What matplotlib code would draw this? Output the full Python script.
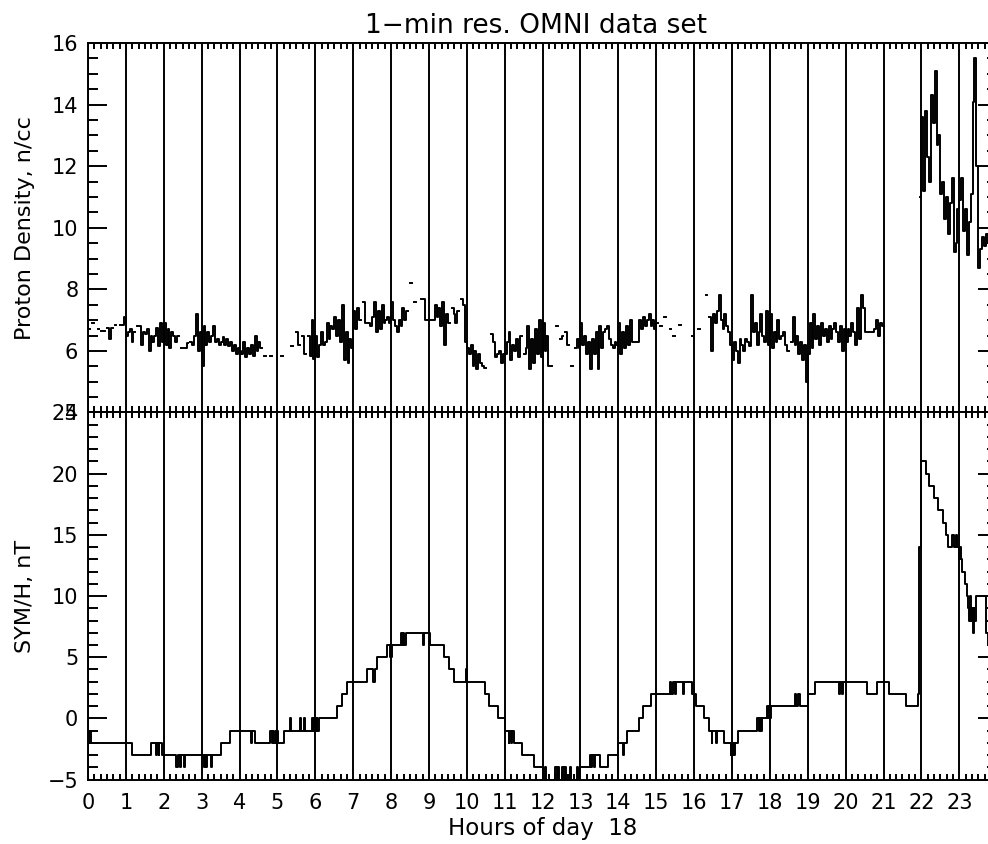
import numpy as np
import matplotlib.pyplot as plt
from matplotlib.ticker import MultipleLocator, FixedLocator

# Proton density, n/cc, 3-minute samples (20 per hour); None = no data
density = [
    6.7, None, 6.9, None, None, 6.7, None, 6.65, 6.65, None, 6.75, 6.4, 6.75, None, 6.85, None, None, 6.85, 6.85, 7.1,  # 00
    6.5, 6.6, 6.7, 6.3, 6.6, None, 6.8, 6.8, 6.2, 6.6, 6.55, 6.7, 6.0, 6.5, 6.3, 6.5, 6.75, 6.15, 6.9, 6.3,  # 01
    6.9, 6.2, 6.7, 6.1, 6.6, 6.5, 6.3, 6.5, None, 6.1, None, 6.1, 6.25, None, 6.3, 6.2, 6.5, 7.2, 6.0, 6.6,  # 02
    5.5, 6.8, 6.2, 6.6, 6.3, 6.5, 6.8, 6.3, 6.4, 6.2, 6.3, 6.45, 6.2, 6.4, 6.15, 6.3, 6.0, 6.2, 5.9, 6.1,  # 03
    6.0, 5.9, 6.3, 5.8, 6.1, 5.9, 6.2, 5.85, 6.5, 6.0, 6.3, 6.1, None, 5.85, None, None, 5.85, None, None, None,  # 04
    None, None, 5.85, None, None, None, None, 6.15, None, None, 6.6, 6.2, None, 6.5, 5.9, None, 6.5, 5.85, 7.0, 5.75,  # 05
    6.5, 5.8, 6.2, 6.6, 6.2, 6.3, 6.9, 6.4, 6.8, 6.7, 7.1, 6.5, 7.0, 6.3, 7.5, 5.7, 6.6, 5.6, 6.4, 6.1,  # 06
    7.3, 6.7, 7.4, 7.0, None, 7.6, 6.9, None, 6.9, 6.8, 7.1, 7.6, 6.6, 7.3, 6.7, 7.5, 6.9, 7.0, 7.1, 6.9,  # 07
    7.6, 7.0, 6.8, 6.6, 7.0, 6.8, 7.4, 7.0, 7.3, None, 8.2, None, 7.6, None, None, None, 7.7, 7.7, 7.0, 7.0,  # 08
    7.0, 7.0, 7.0, 7.5, 7.1, 7.4, 6.8, 7.6, 6.2, 7.2, 6.9, None, 7.4, 7.2, 6.9, 7.3, None, 7.7, 7.5, 6.3,  # 09
    6.1, 5.9, 6.2, 5.5, 6.0, 5.4, 5.9, 5.6, 5.5, 5.45, None, None, None, 6.55, 6.3, 5.8, 5.9, 6.0, 5.6, 5.9,  # 10
    5.9, 6.3, 6.6, 5.7, 6.2, 6.0, 6.4, 5.8, 6.5, None, 5.9, 6.1, 6.8, 5.4, 6.4, 5.6, 6.7, 5.9, 7.0, 5.8,  # 11
    6.9, 6.0, 6.5, 5.5, 5.5, None, None, 6.8, None, 6.4, 6.5, None, 6.6, 6.2, None, 5.5, None, 6.1, 6.4, 6.1,  # 12
    6.9, 6.2, 6.5, 5.9, 6.3, 5.4, 6.4, 5.9, 6.6, 5.4, 6.8, 6.1, 6.6, 6.7, 6.8, 6.4, 6.2, 6.1, 6.3, 6.2,  # 13
    6.9, 5.9, 6.6, 6.1, 6.8, 6.2, 7.0, 6.3, 6.3, 6.3, 6.3, 7.0, 6.7, 7.1, 6.8, 7.0, 7.2, 6.8, 7.0, 6.7,  # 14
    6.9, None, 6.8, None, 7.1, None, None, 6.7, None, 6.5, None, None, 6.85, None, None, None, None, None, None, 6.5,  # 15
    None, None, 6.7, None, None, None, 7.8, None, 7.1, 6.0, 7.2, 6.9, 7.3, 7.8, 7.0, 6.7, 7.2, 6.8, 6.6, 6.2,  # 16
    5.7, 6.3, 6.0, 5.6, 6.4, 6.2, 6.0, 6.4, 6.3, 6.15, 7.8, 6.6, 6.9, 6.2, 6.6, 7.2, 6.5, 6.3, 7.3, 6.2,  # 17
    7.2, 6.1, 6.6, 6.3, 7.0, 6.4, 6.5, 6.6, 6.2, 6.0, None, 6.3, 7.1, 6.2, 6.5, 5.9, 6.3, 5.7, 6.2, 5.0,  # 18
    5.9, 6.9, 6.1, 7.2, 6.4, 6.8, 6.2, 6.9, 6.5, 6.7, 6.3, 6.8, 6.4, 6.7, 6.9, 6.6, 6.3, 6.8, 6.0, 6.7,  # 19
    6.3, 6.7, 6.5, 6.9, 6.6, 6.2, 7.4, 6.4, 7.8, 7.4, 6.6, None, 6.6, None, 6.6, 6.7, 7.0, 6.5, 6.9, 6.8,  # 20
    None, None, None, None, None, None, None, None, None, None, None, None, None, None, None, None, None, None, None, 11.0,  # 21
    13.6, 11.2, 13.8, 12.3, 11.5, 14.3, 13.4, 15.1, 12.7, 13.0, 11.1, 11.5, 10.3, 11.0, 9.8, 10.8, 11.6, 9.2, 9.5, 10.6,  # 22
    10.9, 11.6, 9.9, 10.6, 9.1, 10.2, 11.1, 14.1, 15.5, 12.0, 8.7, 9.3, 9.7, 9.4, 9.8, 9.5, 9.6, 9.4, 9.7, 9.5,  # 23
]

# SYM/H, nT: minute of day at which each new value starts
symh_min = [
    0, 1, 2, 4, 69, 99, 108, 110, 112, 113, 117,
    140, 142, 146, 148, 152, 153, 183, 185, 187, 189, 195, 196,
    210, 225, 258, 260, 264,
    289, 291, 293, 295, 297, 298, 300, 301, 310,
    320, 322, 336, 338, 342, 343, 354, 356, 358, 360, 362, 363, 366,
    395, 403, 410, 442, 452, 454, 458, 474, 479, 482,
    495, 497, 499, 501, 503, 530, 532, 541, 564, 572, 580, 598, 600,
    628, 635, 650, 660, 666, 667, 670, 671, 674,
    687, 706, 720, 723, 725, 740, 743, 745, 746, 750, 754, 756, 757, 764, 765, 775, 776, 780,
    795, 797, 799, 801, 803, 811, 823,
    840, 848, 849, 853, 873, 879, 891, 921, 924, 926, 930, 931, 942, 944,
    957, 963, 975, 983, 988, 989, 995, 996, 1008, 1018, 1019, 1020, 1022, 1023, 1025, 1029,
    1059, 1062, 1064, 1066, 1068, 1076, 1077, 1078, 1079, 1081,
    1119, 1121, 1124, 1127, 1140, 1152, 1190, 1191, 1194, 1196,
    1234, 1250, 1268, 1295, 1314, 1316, 1319,
    1327, 1332, 1340, 1346, 1354, 1359, 1362, 1369, 1371, 1375, 1377,
    1380, 1381, 1383, 1384, 1389, 1392, 1394, 1395, 1397, 1398, 1400, 1401, 1403, 1404, 1406,
    1422, 1423, 1425,
]
symh_nt = [
    -1, -2, -1, -2, -3, -2, -3, -2, -3, -2, -3,
    -4, -3, -4, -3, -4, -3, -4, -3, -4, -3, -4, -3,
    -2, -1, -2, -1, -2,
    -1, -2, -1, -2, -1, -2, -1, -2, -1,
    0, -1, 0, -1, 0, -1, 0, -1, 0, -1, 0, -1, 0,
    1, 2, 3, 4, 3, 4, 5, 6, 5, 6,
    7, 6, 7, 6, 7, 6, 7, 6, 5, 4, 3, 4, 3,
    2, 1, 0, -1, -2, -1, -2, -1, -2,
    -3, -4, -5, -4, -5, -4, -5, -4, -5, -4, -5, -4, -5, -4, -5, -4, -5, -4,
    -3, -4, -3, -4, -3, -4, -3,
    -2, -3, -2, -1, 0, 1, 2, 3, 2, 3, 2, 3, 2, 3,
    2, 1, 0, -1, -2, -1, -2, -1, -2, -3, -2, -3, -2, -3, -2, -1,
    0, -1, 0, -1, 0, 1, 0, 1, 0, 1,
    2, 1, 2, 1, 2, 3, 2, 3, 2, 3,
    2, 3, 2, 1, 2, 14, 21,
    20, 19, 18, 17, 16, 15, 14, 15, 14, 15, 14,
    13, 14, 13, 12, 11, 10, 9, 8, 10, 8, 9, 7, 9, 8, 10,
    8, 7, 6,
]

hour_labels = [str(h) for h in range(24)]

plt.rcParams['font.family'] = ['DejaVu Sans']
LW = 1.4


def style_axes(ax, y_major, y_minor):
    ax.set_xlim(0, 24)
    ax.xaxis.set_major_locator(FixedLocator(range(24)))
    ax.xaxis.set_minor_locator(MultipleLocator(1 / 6))
    ax.yaxis.set_major_locator(MultipleLocator(y_major))
    ax.yaxis.set_minor_locator(MultipleLocator(y_minor))
    ax.tick_params(which='both', direction='in', top=True, bottom=True,
                   left=True, right=True, width=LW, color='k',
                   labelsize=15, labelright=False, labeltop=False)
    ax.tick_params(axis='y', which='major', length=13.5, pad=7)
    ax.tick_params(axis='y', which='minor', length=7)
    ax.tick_params(axis='x', which='major', length=0, pad=10)
    ax.tick_params(axis='x', which='minor', length=4.3)
    # hour markers run across the whole panel
    ax.grid(axis='x', which='major', color='k', lw=LW)
    for s in ax.spines.values():
        s.set_linewidth(LW)


fig = plt.figure(figsize=(9.88, 8.44), dpi=100)
ax1 = fig.add_axes([0.0891, 0.5113, 0.9202, 0.4377])
ax2 = fig.add_axes([0.0891, 0.0763, 0.9202, 0.4350], sharex=ax1)

# proton density
dens = np.array(density, dtype=float)
t_dens = np.arange(len(dens)) * 3 / 60
ax1.plot(np.append(t_dens, 24), np.append(dens, dens[-1]),
         drawstyle='steps-post', color='k', lw=LW)
ax1.set_ylim(4, 16)
style_axes(ax1, 2, 0.5)
ax1.tick_params(labelbottom=False)
ax1.set_ylabel('Proton Density, n/cc', fontsize=16)
ax1.yaxis.set_label_coords(-0.058, 0.5)
ax1.set_title('1\u2212min res. OMNI data set', fontsize=19, pad=7, x=0.493)

# SYM/H index
t_symh = np.append(symh_min, 1440) / 60
v_symh = np.append(symh_nt, symh_nt[-1])
ax2.plot(t_symh, v_symh, drawstyle='steps-post', color='k', lw=LW)
ax2.set_ylim(-5, 25)
style_axes(ax2, 5, 1)
ax2.set_xticklabels(hour_labels)
ax2.set_ylabel('SYM/H, nT', fontsize=16)
ax2.yaxis.set_label_coords(-0.058, 0.5)
ax2.set_xlabel('Hours of day  18', fontsize=16.5)
ax2.xaxis.set_label_coords(0.5, -0.103)

fig.savefig('out.png', dpi=100)
